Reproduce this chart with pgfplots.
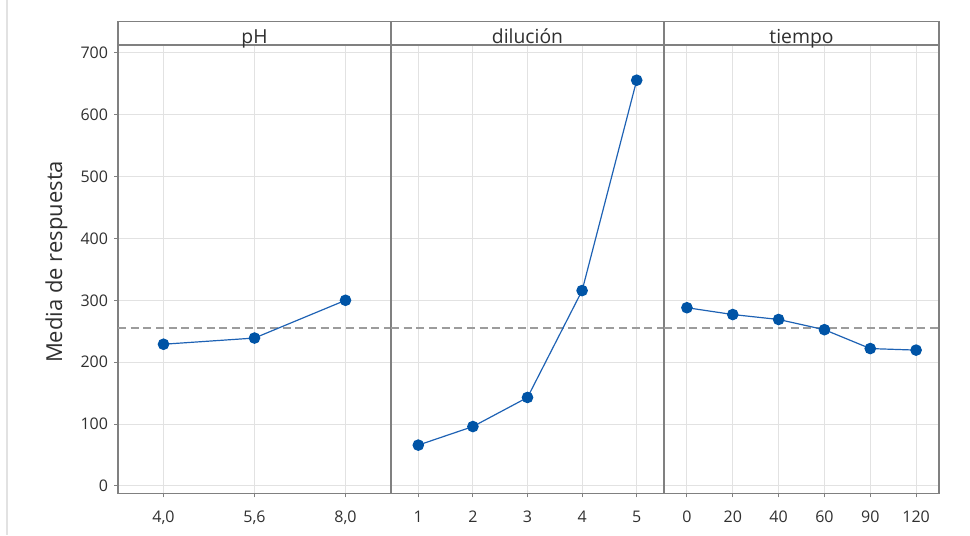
\documentclass[border=0pt]{standalone}
\usepackage{fontspec}
\setmainfont{Open Sans}
\usepackage{pgfplots}
\pgfplotsset{compat=1.18}

\definecolor{framec}{HTML}{808080}
\definecolor{gridc}{HTML}{E2E2E2}
\definecolor{lineb}{HTML}{1E62B4}
\definecolor{markb}{HTML}{0054A6}
\definecolor{txt}{HTML}{303030}
\definecolor{refc}{HTML}{9C9C9C}

\tikzset{refl/.style={refc, dash pattern=on 6pt off 3.5pt, line width=1.4pt}}

\pgfplotsset{
 panel/.style={
  scale only axis, height=336.2pt,
  anchor=south west,
  ymin=-11.8, ymax=712.5,
  ytick={0,100,...,700},
  grid=major, major grid style={gridc, line width=0.8pt},
  axis line style={framec, line width=0.9pt},
  tick style={framec, line width=0.75pt},
  tick align=outside, major tick length=3pt,
  xtick=data,
  ticklabel style={text=txt, font=\fontsize{12}{14}\selectfont},
  xticklabel style={yshift=-6.5pt},
  /pgf/number format/assume math mode=true,
  xtick pos=bottom, ytick pos=left,
  clip=false,
 },
 ser/.style={color=lineb, line width=0.9pt, mark=*, mark size=3.9pt,
    mark options={fill=markb, draw=markb, solid}},
}

\begin{document}
\begin{tikzpicture}
\path[use as bounding box] (0,0) rectangle (727.5pt,401.25pt);
\draw[gridc, line width=0.8pt] (5.25pt,0) -- (5.25pt,401.25pt);

% pH
\begin{axis}[panel, at={(88.5pt,31.3pt)}, width=204.75pt,
  xmin=-0.5, xmax=2.5,
  xticklabels={{4,0},{5,6},{8,0}},
  ylabel={Media de respuesta},
  ylabel style={text=txt, font=\fontsize{16.5}{18}\selectfont, at={(ticklabel cs:0.516)}, yshift=3pt},
  yticklabel style={xshift=-1pt}]
\draw[refl] (axis cs:-0.5,255.7) -- (axis cs:2.5,255.7);
\addplot[ser] coordinates {(0,229) (1,239) (2,300)};
\end{axis}

% dilucion
\begin{axis}[panel, at={(293.25pt,31.3pt)}, width=204.75pt,
  xmin=0.5, xmax=5.5,
  yticklabels={}, y tick style={draw=none}]
\draw[refl] (axis cs:0.5,255.7) -- (axis cs:5.5,255.7);
\addplot[ser] coordinates {(1,66) (2,96) (3,143) (4,315.7) (5,655.6)};
\end{axis}

% tiempo
\begin{axis}[panel, at={(498pt,31.3pt)}, width=206.25pt,
  xmin=-0.5, xmax=5.5,
  xticklabels={0,20,40,60,90,120},
  yticklabels={}, y tick style={draw=none}]
\draw[refl] (axis cs:-0.5,255.7) -- (axis cs:5.5,255.7);
\addplot[ser] coordinates {(0,288) (1,277) (2,269) (3,252.5) (4,222) (5,219.5)};
\end{axis}

% strips
\foreach \xa/\xb/\lab in {88.5/293.25/pH, 293.25/498/diluci\'on, 498/704.25/tiempo}{
  \draw[framec, line width=0.9pt] (\xa pt,367.5pt) rectangle (\xb pt,385pt);
  \node[anchor=base, text=txt, font=\fontsize{14.5}{16}\selectfont, inner sep=0pt]
    at ({(\xa+\xb)/2*1pt}, 368.8pt) {\lab};
}
\end{tikzpicture}
\end{document}
